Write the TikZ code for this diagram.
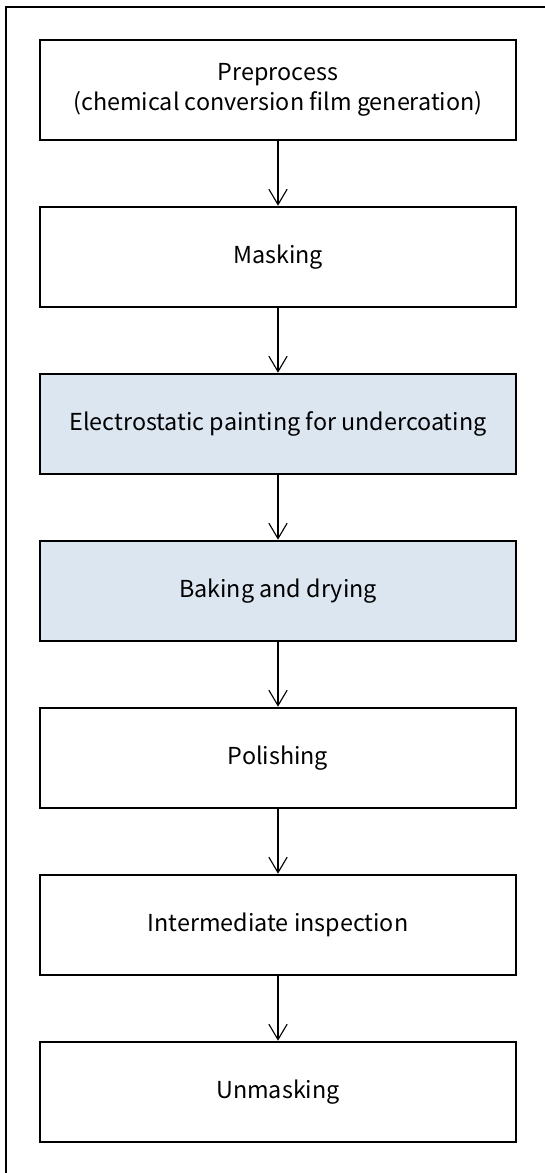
\documentclass[tikz,border=0pt]{standalone}
\usepackage{fontspec}
\setmainfont{Noto Sans CJK JP}
\usetikzlibrary{arrows.meta}
\definecolor{paleblue}{RGB}{220,230,241}
\tikzset{
  stepbox/.style={draw, line width=1.8pt, minimum width=11.9cm, minimum height=2.5cm,
    align=center, inner sep=0pt, font=\fontsize{16.6}{21.5}\selectfont},
  flow/.style={-{Straight Barb[length=11pt,width=13pt]}, line width=0.8pt},
}
\begin{document}
\begin{tikzpicture}[x=0.025cm, y=-0.025cm]
\useasboundingbox (0,0) rectangle (545,1173);
% Outer frame
\draw[line width=1.3pt] (6,1173) -- (6,7) -- (545,7);
% Process steps
\node[stepbox] (S1) at (278,90) {Preprocess\\(chemical conversion film generation)};
\node[stepbox] (S2) at (278,257) {Masking};
\node[stepbox, fill=paleblue] (S3) at (278,424) {Electrostatic painting for undercoating};
\node[stepbox, fill=paleblue] (S4) at (278,591) {Baking and drying};
\node[stepbox] (S5) at (278,758) {Polishing};
\node[stepbox] (S6) at (278,925) {Intermediate inspection};
\node[stepbox] (S7) at (278,1092) {Unmasking};
% Connections
\foreach \i/\j in {1/2,2/3,3/4,4/5,5/6,6/7}
    \draw[flow] (S\i) -- (S\j);
\end{tikzpicture}
\end{document}
